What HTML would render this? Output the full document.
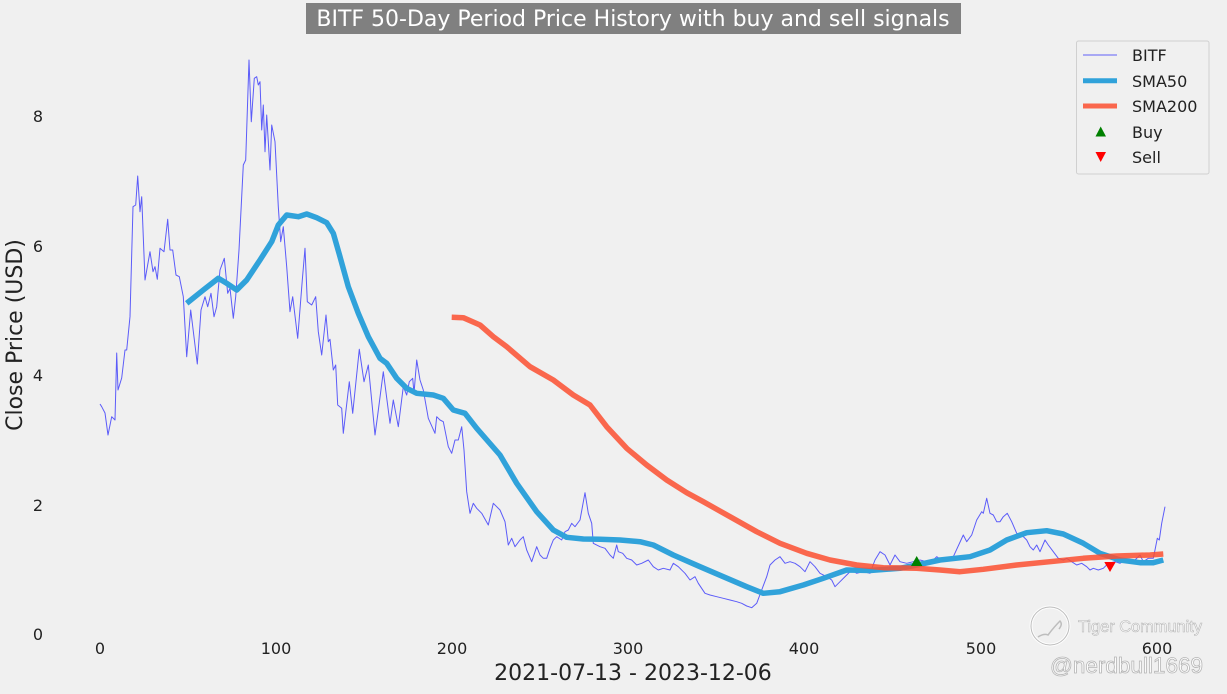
<!DOCTYPE html>
<html><head><meta charset="utf-8"><style>
html,body{margin:0;padding:0;background:#f0f0f0;}
svg{display:block;font-family:"DejaVu Sans","Liberation Sans",sans-serif;}
</style></head><body>
<svg width="1227" height="694" viewBox="0 0 1227 694" xmlns="http://www.w3.org/2000/svg">
<rect width="1227" height="694" fill="#f0f0f0"/>
<!-- title -->
<rect x="306" y="3" width="655" height="31" fill="#808080"/>
<text x="633" y="26" font-size="22" fill="#ffffff" text-anchor="middle">BITF 50-Day Period Price History with buy and sell signals</text>
<!-- y ticks -->
<g font-size="16" fill="#222" text-anchor="end">
<text x="43" y="640">0</text>
<text x="43" y="511">2</text>
<text x="43" y="381">4</text>
<text x="43" y="252">6</text>
<text x="43" y="122">8</text>
</g>
<!-- x ticks -->
<g font-size="16" fill="#222" text-anchor="middle">
<text x="100" y="654">0</text>
<text x="276" y="654">100</text>
<text x="452" y="654">200</text>
<text x="628" y="654">300</text>
<text x="804" y="654">400</text>
<text x="981" y="654">500</text>
<text x="1157" y="654">600</text>
</g>
<text x="633" y="680" font-size="22" fill="#222" text-anchor="middle">2021-07-13 - 2023-12-06</text>
<text transform="translate(22,335) rotate(-90)" font-size="22" fill="#222" text-anchor="middle">Close Price (USD)</text>

<!-- price -->
<polyline fill="none" stroke="#0000ff" stroke-opacity="0.62" stroke-width="1" stroke-linejoin="round" points="
100,404 101.7,406.7 105,413 108,435 111.7,416.7 115,420 116.7,353 118,390 121.7,378 125,350 126.7,350 130,316.7 133,206.7 135.7,205 137.7,176 140,211.7 141.7,196.7 145,280 150,251.7 153,271.7 155,266.7 157.3,279.3 160,248.3 164,251.7 167.7,219.3 170,250 172.7,250 176,275 179.3,276.7 183.3,296.7 186.7,356.7 190.7,310 197.3,364 201,310 205,296.7 207.7,306.7 211,293.3 214,316.7 216.7,306.7 220,270 224.3,258.3 227.7,293.3 230,288.3 233.3,318.3 235.7,296.7 239,250 243.3,165 245.7,160 249,60 251.3,121.7 254.3,78.3 256.7,76.7 258.3,85 260,81.7 261.7,130 263.3,105 265,151.7 266.7,115 270,170 271.7,125 275,141.7 278.3,206.7 280.7,241.7 283.3,226.7 286.7,266.7 290,311.7 292.7,296.7 297.7,338.3 302.3,280
305,248.3 307.3,301.7 311.7,305 315.7,296.7 318.3,331.7 321.7,355 326,315 328.3,341.7 330,339.3 333.3,370 335.7,365 337.7,405 341.7,408.3 343.3,433.3 349.3,381.7 352.7,413.3 359.3,349.3 364,381.7 368.3,365 375,435 377.7,415 383.3,371.7 390,423.3 393.3,400 398.3,426.7 403.3,386.7 406.7,395 409.3,381.7 412.7,378.3 414,393.3 416.7,360 420,380 423.3,390 428.3,418.3 435,433.3 436.7,416.7 440,420
443.3,421.7 448.3,446.7 451.7,453.3 455,440 458.3,440 461.7,426.7 464,450 466.7,491.7 470,513.3 473.3,503.3 476.7,508.3 481.7,513.3 488.3,525 493.3,503.3 500,510 505,521.7 508.3,545 511.7,538.3 515,546.7 520,540 523.3,536.7 526.7,550 531.7,561.7 536.7,546.7 540,555 543.3,558.3 546.7,558.3 550,548.3 553.3,540 556.7,536.7 561.7,540 565,531.7 568.3,530 571.7,523.3 575,526.7 580,520 585,492.7 588.3,513.3 591.7,523.3 593.3,543.3 600,546.7 605,548.3 610,555 613.3,558.3 616.7,545 618.3,551.7 622.7,553.3 626.7,558.3 631.7,560 636.7,565 641.7,563.3 648.3,560 653.3,566.7 658.3,570 663.3,568.3 670,570 673.3,563.3 678.3,566.7
685,573.3 690,580 695,576.7 698.3,583.3 705,593.3 710,595 716.7,596.7 723.3,598.3 730,600 736.7,601.7 741.7,603.3 746.7,606 751.7,607.7 756.7,603.3 761.7,590 766.7,576.7 770,565 775,560 780,556.7 785,563.3 790,561.7 795,563.3 800,566.7 805,571.7 810,561.7 815,566.7 820,573.3 826.7,576.7 831.7,580 835,586.7 840,581.7 846.7,575 851.7,570 856.7,573.3 863.3,571.7 870,573.3 875,560 880,551.7 885,555 890,565 895,555 900,561.7 906.7,563.3 913.3,561.7 920,560 926.7,561.7 933.3,560 936.7,556.7 941.7,560 946.7,558.3 953.3,556.7
963.3,535 966.7,541.7 971.7,535 976.7,520 981.7,511.7 983.3,513.3 986.7,498.3 990,513.3 993.3,515 996.7,521.7 1000,521.7 1003.3,516.7 1007.3,513.3 1011.7,521.7 1016.7,533.3 1021.7,535 1026.7,540 1030,546.7 1033.3,550 1036.7,545 1040,551.7 1045,540 1048.3,545 1053.3,551.7 1058.3,558.3 1063.3,560 1066.7,558.3 1071.7,561.7 1076.7,565 1081.7,563.3 1086.7,566.7 1090,570 1093.3,568.3 1098.3,570 1103.3,568.3 1108.3,563.3 1115,561.7 1120,563.3 1125,560 1130,561.7 1135,560 1140,555 1143.3,561.7 1148.3,558.3 1153.3,558.3 1155,550 1157.3,538.3 1159.3,540 1161.7,523.3 1165,506.7"/>

<!-- SMA50 -->
<polyline fill="none" stroke="#30a2da" stroke-width="5.5" stroke-linejoin="round" stroke-linecap="butt" points="186.7,303.3 203.3,290 218.3,278.3 226.7,283.3 236.7,290 246.7,280 260,260 271.7,241.7 278.3,225 286.7,215 298.3,216.7 306.7,214 316.7,217.7 326.7,222.7 333.3,233.3 340,256.7 348.3,286.7 358.3,313.3 368.3,336.7 380,358.3 386.7,363.3 396.7,378.3 406.7,388.3 416.7,393.3 433.3,395 443.3,398.3 453.3,410 465,413.3 476.7,428.3 500,455 516.7,483.3 536.7,511.7 553.3,530 566.7,537.3 583.3,539 600,539.3 620,540 640,541.7 653.3,545 673.3,555 700,566.7 723.3,576.7 746.7,586.7 763.3,593.3 780,591.7 803.3,585 823.3,578.3 846.7,570 870,570.5 900,568.3 916.7,565 940,560 970,556.7 990,550 1006.7,540 1026.7,532.7 1046.7,530.7 1063.3,534 1083.3,543.3 1100,553.3 1120,560 1140,562.7 1153.3,562.7 1163.3,560"/>

<!-- SMA200 -->
<polyline fill="none" stroke="#fc4f30" stroke-opacity="0.85" stroke-width="5.5" stroke-linejoin="round" points="451.7,317.3 463.3,317.7 480,325 493.3,336.7 506.7,346.7 530,366.7 553.3,380 573.3,395 590,405 606.7,426.7 626.7,448.3 646.7,465 666.7,480 686.7,492.7 703.3,501.7 730,516.7 756.7,531.7 780,543.3 806.7,553.3 830,560 856.7,565 883.3,567.7 916.7,568.3 940,570 960,571.7 983.3,569.3 1016.7,565 1050,561.7 1083.3,558.3 1116.7,556 1150,555 1163.3,554"/>

<!-- markers -->
<polygon points="916.7,556 911,566 922.4,566" fill="#008000"/>
<polygon points="1104.3,562 1115.7,562 1110,572" fill="#ff0000"/>

<!-- legend -->
<rect x="1076.5" y="41" width="132.5" height="133" rx="2" fill="#f0f0f0" stroke="#d0d0d0" stroke-width="1"/>
<line x1="1083" y1="55" x2="1117" y2="55" stroke="#0000ff" stroke-opacity="0.6" stroke-width="1"/>
<line x1="1083" y1="80.7" x2="1117" y2="80.7" stroke="#30a2da" stroke-width="5"/>
<line x1="1083" y1="106" x2="1117" y2="106" stroke="#fc4f30" stroke-opacity="0.85" stroke-width="5"/>
<polygon points="1100.7,126.5 1095.5,136.5 1106,136.5" fill="#008000"/>
<polygon points="1095.5,152 1106,152 1100.7,162" fill="#ff0000"/>
<g font-size="16" fill="#222">
<text x="1132" y="61">BITF</text>
<text x="1132" y="87">SMA50</text>
<text x="1132" y="112">SMA200</text>
<text x="1132" y="138">Buy</text>
<text x="1132" y="163">Sell</text>
</g>

<!-- watermark -->
<g opacity="0.9">
<circle cx="1050" cy="626" r="19" fill="none" stroke="#ffffff" stroke-width="3"/>
<circle cx="1050" cy="626" r="19" fill="none" stroke="#b8b8b8" stroke-width="1"/>
<path d="M1038,637 q6,-4 10,-2 q6,-8 12,-14 q3,3 -1,8" fill="none" stroke="#b8b8b8" stroke-width="1.5"/>
<text x="1078" y="632" font-size="16.5" fill="#ffffff" stroke="#b0b0b0" stroke-width="0.6" font-family="Liberation Sans, sans-serif" textLength="124" lengthAdjust="spacingAndGlyphs">Tiger Community</text>
<text x="1050" y="673" font-size="22.5" fill="#ffffff" stroke="#b0b0b0" stroke-width="0.8" font-family="Liberation Sans, sans-serif" textLength="153" lengthAdjust="spacingAndGlyphs">@nerdbull1669</text>
</g>
</svg>
</body></html>
